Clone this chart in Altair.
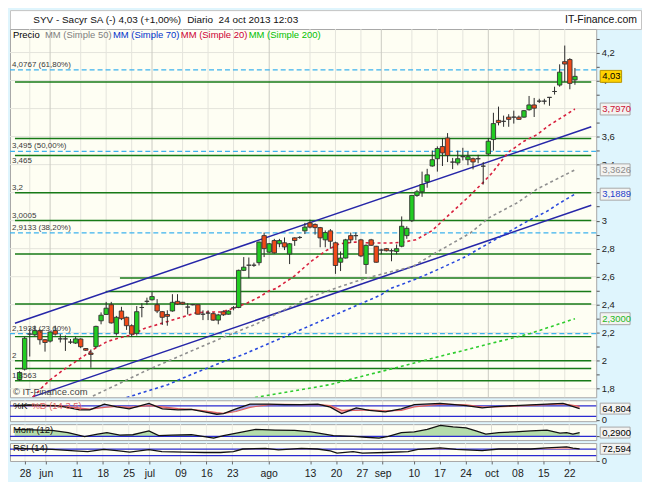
import altair as alt
import pandas as pd

# ---------------- data ----------------
opens = [1.866, 1.94, 2.19, 2.185, 2.215, 2.15, 2.14, 2.215, 2.156, 2.156,
         2.133, 2.126, 2.155, 2.087, 2.055, 2.10, 2.285, 2.33, 2.40, 2.195,
         2.355, 2.31, 2.25, 2.195, 2.38, 2.424, 2.435, 2.40, 2.35, 2.33,
         2.355, 2.424, 2.417, 2.383, 2.40, 2.40, 2.332, 2.34, 2.336, 2.29,
         2.35, 2.332, 2.378, 2.38, 2.645, 2.682, 2.682, 2.70, 2.893, 2.775,
         2.858, 2.835, 2.842, 2.762, 2.877, 2.88, 2.927, 2.984, 2.973, 2.95,
         2.863, 2.927, 2.842, 2.703, 2.733, 2.893, 2.893, 2.863, 2.687, 2.863,
         2.817, 2.79, 2.80, 2.785, 2.78, 2.817, 2.893, 3.0, 3.18, 3.206,
         3.277, 3.39, 3.442, 3.529, 3.59, 3.418, 3.412, 3.457, 3.435, 3.442,
         3.442, 3.389, 3.476, 3.579, 3.716, 3.709, 3.739, 3.739, 3.739, 3.739,
         3.792, 3.826, 3.853, 3.853, 3.88, 3.922, 3.968, 4.135, 4.15, 4.005]
closes = [1.916, 2.16, 2.19, 2.215, 2.15, 2.13, 2.205, 2.19, 2.156, 2.156,
          2.133, 2.156, 2.10, 2.075, 2.045, 2.245, 2.325, 2.375, 2.27, 2.31,
          2.30, 2.25, 2.19, 2.35, 2.38, 2.424, 2.458, 2.355, 2.31, 2.317,
          2.417, 2.405, 2.405, 2.383, 2.40, 2.332, 2.332, 2.34, 2.29, 2.327,
          2.328, 2.355, 2.378, 2.645, 2.668, 2.682, 2.682, 2.847, 2.80, 2.835,
          2.77, 2.858, 2.812, 2.835, 2.858, 2.88, 2.954, 2.954, 2.95, 2.877,
          2.915, 2.853, 2.68, 2.733, 2.863, 2.863, 2.893, 2.748, 2.824, 2.824,
          2.703, 2.79, 2.785, 2.785, 2.80, 2.96, 2.945, 3.18, 3.206, 3.258,
          3.327, 3.435, 3.515, 3.483, 3.465, 3.418, 3.442, 3.457, 3.457, 3.419,
          3.442, 3.389, 3.567, 3.693, 3.70, 3.709, 3.723, 3.739, 3.723, 3.785,
          3.826, 3.803, 3.853, 3.853, 3.88, 3.922, 4.06, 4.118, 3.98, 4.03]
highs = [1.925, 2.17, 2.23, 2.25, 2.225, 2.155, 2.21, 2.25, 2.19, 2.18,
         2.155, 2.17, 2.16, 2.09, 2.08, 2.25, 2.345, 2.42, 2.42, 2.32,
         2.385, 2.315, 2.26, 2.39, 2.41, 2.45, 2.49, 2.44, 2.355, 2.36,
         2.475, 2.475, 2.42, 2.41, 2.405, 2.40, 2.36, 2.36, 2.345, 2.335,
         2.36, 2.36, 2.39, 2.65, 2.74, 2.737, 2.70, 2.85, 2.915, 2.84,
         2.87, 2.87, 2.88, 2.84, 2.88, 2.89, 2.984, 3.007, 2.98, 2.955,
         2.93, 2.94, 2.85, 2.78, 2.87, 2.915, 2.915, 2.87, 2.83, 2.87,
         2.82, 2.80, 2.805, 2.80, 2.83, 3.03, 2.96, 3.18, 3.22, 3.35,
         3.37, 3.50, 3.53, 3.59, 3.625, 3.448, 3.50, 3.52, 3.494, 3.45,
         3.47, 3.418, 3.59, 3.77, 3.814, 3.75, 3.76, 3.785, 3.75, 3.79,
         3.89, 3.876, 3.87, 3.87, 3.88, 3.956, 4.116, 4.25, 4.16, 4.09]
lows = [1.856, 1.93, 2.03, 2.175, 2.115, 2.065, 2.13, 2.18, 2.13, 2.07,
        2.12, 2.12, 2.09, 2.07, 1.95, 2.09, 2.26, 2.33, 2.265, 2.18,
        2.29, 2.22, 2.17, 2.18, 2.31, 2.40, 2.43, 2.34, 2.255, 2.25,
        2.35, 2.40, 2.40, 2.33, 2.395, 2.33, 2.29, 2.29, 2.285, 2.26,
        2.32, 2.33, 2.36, 2.375, 2.64, 2.59, 2.67, 2.68, 2.74, 2.77,
        2.765, 2.81, 2.79, 2.69, 2.82, 2.87, 2.904, 2.945, 2.90, 2.81,
        2.81, 2.80, 2.62, 2.64, 2.73, 2.84, 2.86, 2.74, 2.62, 2.82,
        2.70, 2.76, 2.78, 2.71, 2.76, 2.81, 2.87, 2.99, 3.17, 3.17,
        3.235, 3.385, 3.35, 3.39, 3.418, 3.368, 3.395, 3.43, 3.396, 3.366,
        3.41, 3.258, 3.465, 3.50, 3.68, 3.67, 3.67, 3.693, 3.72, 3.735,
        3.785, 3.74, 3.84, 3.83, 3.82, 3.90, 3.956, 3.99, 3.938, 3.97]

tick_k = [2, 6, 12, 17, 22, 26, 32, 37, 42, 49, 57, 62, 67, 71, 77, 82, 87, 92, 97, 102, 107]
tick_lab = ['28', 'jun', '11', '18', '25', 'jul', '09', '16', '23', 'ago', '13', '20', '27',
            'sep', '10', '17', '24', 'oct', '08', '15', '22']
month_k = [6, 26, 49, 71, 92]

ma20_k = [2.6, 5.0, 6.0, 8.5, 12.2, 14.6, 17.2, 19.7, 22.1, 24.4, 26.5, 29.7, 32.8, 34.7, 37.2,
          39.7, 42.2, 44.7, 47.2, 49.0, 50.3, 54.0, 57.2, 60.3, 62.8, 65.9, 69.0, 72.8, 75.3,
          77.8, 80.9, 84.6, 88.4, 90.9, 92.7, 95.9, 99.0, 101.5, 104.0, 106.5, 109.0]
ma20_p = [1.74, 1.83, 1.863, 1.932, 2.023, 2.083, 2.137, 2.164, 2.185, 2.229, 2.252, 2.287, 2.321,
          2.343, 2.348, 2.348, 2.378, 2.412, 2.458, 2.499, 2.515, 2.606, 2.709, 2.789, 2.835,
          2.847, 2.840, 2.840, 2.847, 2.863, 2.927, 3.052, 3.179, 3.27, 3.339, 3.488, 3.567,
          3.613, 3.682, 3.739, 3.797]
ma50_k = [14.4, 19.1, 25.0, 32.8, 40.3, 46.5, 56.5, 62.2, 66.5, 70.3, 74.0, 77.1, 81.5, 88.4,
          92.1, 97.7, 101.5, 105.2, 109.0]
ma50_p = [1.748, 1.829, 1.932, 2.055, 2.172, 2.263, 2.446, 2.52, 2.572, 2.611, 2.645, 2.671,
          2.767, 2.91, 3.02, 3.128, 3.224, 3.293, 3.3626]
ma70_k = [21.0, 29.1, 33.4, 39.7, 44.0, 55.3, 70.9, 72.8, 77.8, 81.5, 87.1, 100.2, 103.4, 105.8, 109.0]
ma70_p = [1.737, 1.829, 1.897, 1.989, 2.046, 2.223, 2.469, 2.515, 2.583, 2.641, 2.735, 3.007,
          3.064, 3.121, 3.1889]
ma200_k = [46.2, 60.9, 79.6, 100.2, 109.0]
ma200_p = [1.737, 1.829, 2.004, 2.194, 2.30]

green_levels = [3.99, 3.586, 3.465, 3.2, 3.0005, 2.762, 2.59, 2.494, 2.405, 2.172, 2.0, 1.945, 1.8563]
green_start = [-0.9, -0.9, -0.9, -0.9, -0.9, -0.9, 19.7, 16.9, -0.9, -0.9, -0.9, -0.9, -0.9]
green_labels = ['', '', '', '3,2', '3,0005', '', '', '', '', '', '2', '', '1,8563']
under_level = [3.465]
under_label = ['3,465']
fib_levels = [4.0767, 3.495, 2.9133, 2.1938]
fib_labels = ['4,0767 (61,80%)', '3,495 (50,00%)', '2,9133 (38,20%)', '2,1938 (23,60%)']

trend_id = ['a', 'a', 'b', 'b']
trend_k = [-0.9, 112.2, 2.53, 112.2]
trend_p = [2.267, 3.670, 1.742, 3.110]

last_p = [4.03, 3.797, 3.3626, 3.1889, 2.30]
last_txt = ['4,03', '3,7970', '3,3626', '3,1889', '2,3000']
last_col = ['#000000', '#cc1133', '#8c8c8c', '#1f3fcc', '#22b822']

st_k = [0, 2.8, 8.5, 12.6, 14.5, 17.3, 19.7, 22.1, 25.9, 28.5, 31.5, 34.1, 36.6, 39.0, 40.3,
        42.7, 45.4, 49.1, 52.1, 55.3, 58.5, 60.9, 63.1, 65.9, 68.4, 71.5, 74.6, 77.1, 82.1,
        87.1, 90.2, 92.7, 96.5, 102.7, 105.8, 109.0]
st_K = [82, 85.5, 80, 58.1, 58.1, 90.9, 74.5, 63.6, 94.8, 63.6, 58.1, 59.8, 45.6, 32.5, 36.3,
        63.6, 90.9, 90.9, 87.1, 87.1, 90.9, 72.9, 36.3, 69.1, 54.3, 45.6, 63.6, 87.1, 94.8,
        81.6, 69.1, 76.2, 81.6, 90.9, 94.8, 64.804]
st_D = [80, 83, 82, 68, 62, 72, 78, 72, 82, 75, 65, 60, 52, 42, 38, 48, 72, 88, 89, 88, 88,
        82, 55, 55, 58, 52, 55, 75, 90, 86, 75, 74, 79, 88, 92, 78]

mom_k = [0, 7.2, 10.3, 13.5, 16.0, 17.8, 20.3, 22.8, 25.9, 27.8, 30.3, 34.1, 36.6, 38.4, 40.3,
         42.8, 46.5, 50.3, 54.0, 57.2, 61.5, 65.3, 67.8, 70.3, 72.1, 74.6, 77.1, 79.6, 82.1,
         84.6, 87.1, 89.0, 90.9, 93.4, 96.5, 99.6, 102.7, 105.2, 106.5, 107.7, 109.0]
mom_v = [0.53, 0.456, 0.29, -0.02, 0.167, 0.29, 0.094, 0.123, 0.413, 0.05, 0.094, 0.123, -0.02,
         -0.145, 0.05, 0.24, 0.53, 0.486, 0.456, 0.34, 0.05, 0.0, -0.072, -0.145, 0.0, 0.29,
         0.34, 0.53, 0.85, 0.725, 0.652, 0.413, 0.167, 0.29, 0.34, 0.413, 0.486, 0.24, 0.29,
         0.167, 0.29]

rsi_k = [0, 7.2, 11.6, 14.1, 17.2, 19.7, 22.2, 25.9, 28.4, 32.8, 36.6, 39.7, 42.2, 44.0, 48.4,
         50.9, 55.3, 58.4, 60.9, 62.2, 65.3, 67.1, 71.5, 75.9, 77.8, 82.1, 85.2, 90.2, 93.4,
         99.6, 102.7, 106.5, 107.7, 109.0]
rsi_v = [74.7, 68.8, 59.5, 55.4, 68.8, 61.2, 51.3, 67.1, 55.4, 51.3, 49.5, 49.5, 55.4, 71.2,
         74.7, 65.3, 74.7, 71.2, 59.5, 45.4, 55.4, 45.4, 49.5, 55.4, 68.8, 78.8, 68.8, 61.2,
         71.2, 71.2, 78.8, 84.6, 76.0, 72.594]

# ---------------- layout / style ----------------
W, HEAD, HM, H1, H2, H3 = 589, 19, 370, 21, 16, 18
KDOM = [-0.9, 112.2]
PDOM = [1.739, 4.368]
D1, D2, D3 = [-7.3, 112.7], [-0.29, 0.94], [-3, 108]
FONT = 'Liberation Sans'
GREEN, RED = '#22cc22', '#f04a18'

xs = alt.Scale(domain=KDOM, nice=False, zero=False)


def X(f, axis=None):
    return alt.X(f + ':Q', scale=xs, axis=axis, title=None)


def make_y(dom, axis):
    sc = alt.Scale(domain=dom, nice=False, zero=False)

    def Y(f):
        return alt.Y(f + ':Q', scale=sc, axis=axis, title=None)
    return Y


yvals = [round(1.8 + 0.1 * i, 1) for i in range(26)]
# labels every 0.2, except those sitting right under a value box
shown = [v for v in yvals if round(v * 10) % 2 == 0 and all(abs(v - p) > 0.02 for p in last_p)]
shown_keys = ','.join(str(int(round(v * 10))) for v in shown)
main_axis = alt.Axis(orient='right', values=yvals, grid=False, domain=False, ticks=True, tickSize=3,
                     tickColor='#555555', labelColor='#222222', labelFontSize=9.5, labelPadding=2,
                     labelOverlap=False, labelFont=FONT, title=None,
                     labelExpr="indexof([%s], round(datum.value*10)) >= 0 ? replace(format(datum.value, '~g'), '.', ',') : ''" % shown_keys)


def zero_axis(labels=True):
    return alt.Axis(orient='right', values=[0], grid=False, domain=False, ticks=True, tickSize=3,
                    tickColor='#555555', labelColor='#222222', labelFontSize=9.5, labelPadding=2,
                    labelFont=FONT, title=None, labels=labels)


YM = make_y(PDOM, main_axis)
Y1 = make_y(D1, zero_axis())
Y2 = make_y(D2, zero_axis(False))
Y3 = make_y(D3, zero_axis())

cd = pd.DataFrame({'k': list(range(len(opens))), 'o': opens, 'h': highs, 'l': lows, 'c': closes})
vg_w = pd.DataFrame({'k': [k for k in tick_k if k not in month_k]})
vg_m = pd.DataFrame({'k': month_k})
grid_p = [round(1.8 + 0.2 * i, 1) for i in range(13)]


def vgrid(light=False, axis=None):
    cw, cm = ('#ececE4', '#dcdcd4') if light else ('#e4e4dc', '#cbcbc3')
    return [alt.Chart(vg_w).mark_rule(color=cw, strokeWidth=1).encode(x=X('k', axis)),
            alt.Chart(vg_m).mark_rule(color=cm, strokeWidth=1).encode(x=X('k', axis))]


def ptext(txt, x, y, color, size=9.5, align='left'):
    return alt.Chart(pd.DataFrame({'a': [0]})).mark_text(
        text=txt, align=align, baseline='middle', fontSize=size, color=color, font=FONT
    ).encode(x=alt.value(x), y=alt.value(y))


def valbox(p, txt, Y, tcolor='#000000', fill='#f3f3f1', stroke='#a8a8a8', bw=30, half=6):
    df = pd.DataFrame({'p': p, 't': txt, 'c': tcolor})
    box = alt.Chart(df).mark_rect(fill=fill, stroke=stroke, strokeWidth=1, yOffset=-half, y2Offset=half).encode(
        x=alt.value(W + 4), x2=alt.value(W + 4 + bw), y=Y('p'), y2='p')
    t = alt.Chart(df).mark_text(align='left', baseline='middle', fontSize=9.5, font=FONT).encode(
        x=alt.value(W + 6), y=Y('p'), text='t:N', color=alt.Color('c:N', scale=None))
    return [box, t]


# ---------------- main price panel ----------------
gl = pd.DataFrame({'p': green_levels, 'k0': green_start, 'k1': [KDOM[1]] * len(green_levels), 'lab': green_labels})
ul = pd.DataFrame({'p': under_level, 'lab': under_label})
fl = pd.DataFrame({'p': fib_levels, 'lab': fib_labels})
tr = pd.DataFrame({'id': trend_id, 'k': trend_k, 'p': trend_p})


def ma(ks, ps, color):
    return alt.Chart(pd.DataFrame({'k': ks, 'p': ps})).mark_line(
        color=color, strokeWidth=1.6, strokeDash=[3, 3], clip=True).encode(x=X('k'), y=YM('p'))


def lvl_text(df, baseline='bottom', dy=-1):
    return alt.Chart(df).mark_text(align='left', baseline=baseline, dx=2, dy=dy, fontSize=8,
                                   color='#3a3a3a', font=FONT).encode(x=alt.value(0), y=YM('p'), text='lab:N')


layers = []
layers.append(alt.Chart(pd.DataFrame({'p': grid_p})).mark_rule(color='#e4e4dc', strokeWidth=1).encode(y=YM('p')))
layers += vgrid()
layers.append(alt.Chart(gl).mark_rule(color='#177a17', strokeWidth=1.5).encode(x=X('k0'), x2='k1', y=YM('p')))
layers.append(alt.Chart(fl).mark_rule(color='#3cb2ee', strokeWidth=1.3, strokeDash=[5, 3]).encode(y=YM('p')))
layers.append(alt.Chart(tr).mark_line(color='#2626a8', strokeWidth=1.5, clip=True).encode(
    x=X('k'), y=YM('p'), detail='id:N'))
layers.append(ma(ma200_k, ma200_p, '#2ecc2e'))
layers.append(ma(ma70_k, ma70_p, '#2848dd'))
layers.append(ma(ma50_k, ma50_p, '#8f8f8f'))
layers.append(ma(ma20_k, ma20_p, '#d8203e'))
layers.append(alt.Chart(cd).mark_rule(color='#2a2a2a', strokeWidth=1).encode(x=X('k'), y=YM('l'), y2='h'))
for cond, col in [('datum.c > datum.o', GREEN), ('datum.c < datum.o', RED), ('datum.c == datum.o', '#333333')]:
    layers.append(alt.Chart(cd).transform_filter(cond).mark_bar(
        size=4.4, fill=col, stroke='#333333', strokeWidth=0.9).encode(x=X('k'), y=YM('o'), y2='c'))
layers.append(lvl_text(gl))
layers.append(lvl_text(fl))
layers.append(lvl_text(ul, baseline='top', dy=2))
layers += [ptext('Precio', 2.9, 6, '#000000'),
           ptext('MM (Simple 50)', 35.1, 6, '#808080'),
           ptext('MM (Simple 70)', 103.4, 6, '#0033cc'),
           ptext('MM (Simple 20)', 171.6, 6, '#cc0033'),
           ptext('MM (Simple 200)', 239.9, 6, '#00c000'),
           ptext('\u00a9 IT-Finance.com', 2.9, 365, '#444444')]
layers += valbox(last_p[:1], last_txt[:1], YM, '#000000', fill='#ffd200', stroke='#b89400', bw=21.5)
layers += valbox(last_p[1:], last_txt[1:], YM, last_col[1:])
main = alt.layer(*layers).properties(width=W, height=HM)

# ---------------- indicator panels ----------------
BLUE = '#2a2ad0'
sk = pd.DataFrame({'k': st_k, 'K': st_K, 'D': st_D})
sk['hi'] = sk[['K', 'D']].max(axis=1)
sk['lo'] = sk[['K', 'D']].min(axis=1)
p1 = alt.layer(
    *vgrid(True),
    alt.Chart(pd.DataFrame({'v': [20, 80]})).mark_rule(color=BLUE, strokeWidth=1.3).encode(y=Y1('v')),
    alt.Chart(sk).mark_area(color='#f2a4a4').encode(x=X('k'), y=Y1('K'), y2='hi'),
    alt.Chart(sk).mark_area(color='#9ea4e8').encode(x=X('k'), y=Y1('K'), y2='lo'),
    alt.Chart(sk).mark_line(color='#e06060', strokeWidth=1.2).encode(x=X('k'), y=Y1('D')),
    alt.Chart(sk).mark_line(color='#111111', strokeWidth=1.3).encode(x=X('k'), y=Y1('K')),
    ptext('%K', 2.9, 6, '#111111'),
    ptext('%D (14 3 5)', 21.5, 6, '#e06060'),
    *valbox([64.804], ['64,804'], Y1, half=5.5),
).properties(width=W, height=H1)

md = pd.DataFrame({'k': mom_k, 'v': mom_v})
md['z'] = 0.0
p2 = alt.layer(
    *vgrid(True),
    alt.Chart(md).mark_area(color='#b4dcaa').encode(x=X('k'), y=Y2('v'), y2='z'),
    alt.Chart(pd.DataFrame({'v': [0.0]})).mark_rule(color=BLUE, strokeWidth=1.3).encode(y=Y2('v')),
    alt.Chart(md).mark_line(color='#111111', strokeWidth=1.3).encode(x=X('k'), y=Y2('v')),
    ptext('Mom (12)', 2.9, 5.5, '#111111'),
    *valbox([0.29], ['0,2900'], Y2, half=5.5),
).properties(width=W, height=H2)

rd = pd.DataFrame({'k': rsi_k, 'v': rsi_v})
rd['top'] = rd['v'].clip(lower=70)
rd['b'] = 70.0
lab_expr = ('[' + ','.join("'%s'" % t for t in tick_lab) + '][indexof([' +
            ','.join(str(k) for k in tick_k) + '], datum.value)]')
bottom_axis = alt.Axis(orient='bottom', values=tick_k, labelExpr=lab_expr, grid=False, domain=False,
                       ticks=True, tickSize=3, tickColor='#666666', labelColor='#222222', labelFontSize=10.5,
                       labelPadding=5, labelOverlap=False, labelFlush=False, labelFont=FONT, title=None)


def X3(f):
    return X(f, bottom_axis)


p3 = alt.layer(
    *vgrid(True, bottom_axis),
    alt.Chart(pd.DataFrame({'v': [30, 70]})).mark_rule(color=BLUE, strokeWidth=1.3).encode(y=Y3('v')),
    alt.Chart(rd).mark_area(color='#f2a4a4').encode(x=X3('k'), y=Y3('top'), y2='b'),
    alt.Chart(rd).mark_line(color='#111111', strokeWidth=1.3).encode(x=X3('k'), y=Y3('v')),
    ptext('RSI (14)', 2.9, 5, '#111111'),
    *valbox([72.594], ['72,594'], Y3, half=5.5),
).properties(width=W, height=H3)

# ---------------- header ----------------
header = alt.layer(
    ptext('SYV - Sacyr SA (-)', 23.4, 9.5, '#111111', size=10),
    ptext('4,03 (+1,00%)', 109, 9.5, '#111111', size=10),
    ptext('Diario', 178, 9.5, '#111111', size=10),
    ptext('24 oct 2013 12:03', 209.6, 9.5, '#111111', size=10),
    ptext('IT-Finance.com', 630, 10, '#111111', size=10.5, align='right'),
).properties(width=634, height=HEAD, view=alt.ViewBackground(fill='white', stroke='#c4c4c4'))

inner = alt.vconcat(main, p1, p2, p3, spacing=3, bounds='flush')
chart = alt.vconcat(header, inner, spacing=0, bounds='flush').properties(
    background='#dff5fd', padding={'left': 0, 'top': 0, 'right': 0, 'bottom': 1}
).configure_view(fill='#fefef3', stroke='#a6a6a6', strokeWidth=1
).configure_axis(labelFont=FONT).configure_text(font=FONT)

chart.save('out.html', embed_options={'renderer': 'svg', 'actions': False})
